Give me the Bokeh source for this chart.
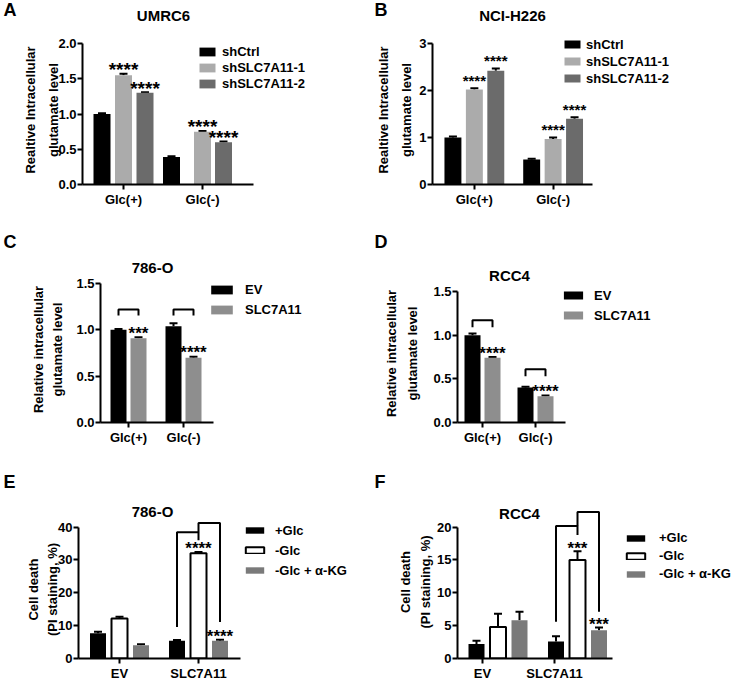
from bokeh.plotting import figure
from bokeh.models import (ColumnDataSource, Whisker, TeeHead, Legend, LegendItem,
                          FixedTicker, Range1d, PrintfTickFormatter, LinearAxis)
from bokeh.layouts import row, column
from bokeh.embed import file_html
from bokeh.resources import INLINE
from bokeh.core.properties import value

# ---------------- data ----------------
glc_cats = ["Glc(+)", "Glc(-)"]
pi_cats = ["EV", "SLC7A11"]

# A  UMRC6
a_names = ["shCtrl", "shSLC7A11-1", "shSLC7A11-2"]
a_shctrl = [1.00, 0.39]
a_shctrl_err = [0.01, 0.01]
a_sh1 = [1.55, 0.75]
a_sh1_err = [0.02, 0.01]
a_sh2 = [1.30, 0.60]
a_sh2_err = [0.01, 0.01]
a_stars_sh1 = ["****", "****"]
a_stars_sh2 = ["****", "****"]

# B  NCI-H226
b_shctrl = [1.00, 0.53]
b_shctrl_err = [0.02, 0.02]
b_sh1 = [2.02, 0.97]
b_sh1_err = [0.03, 0.03]
b_sh2 = [2.42, 1.40]
b_sh2_err = [0.05, 0.03]
b_stars_sh1 = ["****", "****"]
b_stars_sh2 = ["****", "****"]

# C  786-O glutamate
cd_names = ["EV", "SLC7A11"]
c_ev = [1.00, 1.04]
c_ev_err = [0.01, 0.03]
c_slc = [0.91, 0.70]
c_slc_err = [0.01, 0.01]
c_stars = ["***", "****"]
c_br_top = [1.22, 1.22]
c_br_leg = [1.155, 1.155]

# D  RCC4 glutamate
d_ev = [1.00, 0.40]
d_ev_err = [0.02, 0.01]
d_slc = [0.74, 0.30]
d_slc_err = [0.01, 0.01]
d_stars = ["****", "****"]
d_br_top = [1.17, 0.61]
d_br_leg = [1.09, 0.53]

# E  786-O cell death
ef_names = ["+Glc", "-Glc", "-Glc + \u03b1-KG"]
e_glc = [7.7, 5.4]
e_glc_err = [0.4, 0.2]
e_noglc = [12.2, 32.0]
e_noglc_err = [0.5, 0.4]
e_akg = [4.0, 5.4]
e_akg_err = [0.3, 0.3]
e_stars_noglc = ["", "****"]
e_stars_akg = ["", "****"]
e_br1 = [9.6, 38.4, 36.0]    # left leg bottom, top, right drop
e_br2 = [38.4, 41.2, 11.1]   # left start, top, right leg bottom

# F  RCC4 cell death
f_glc = [2.2, 2.6]
f_glc_err = [0.5, 0.8]
f_noglc = [4.8, 15.0]
f_noglc_err = [2.0, 1.3]
f_akg = [5.8, 4.3]
f_akg_err = [1.3, 0.4]
f_stars_noglc = ["", "***"]
f_stars_akg = ["", "***"]
f_br1 = [5.6, 20.15, 18.8]
f_br2 = [20.15, 22.3, 7.1]

# ---------------- styling / geometry (pixels) ----------------
FONT = "Liberation Sans"
BLACK = "#000000"
LIGHT = "#ababab"
DARK = "#6b6b6b"
MID = "#8e8e8e"
AKG = "#7a7a7a"


def style_axis(ax):
    ax.axis_line_width = 2
    ax.axis_line_color = "black"
    ax.major_tick_line_width = 2
    ax.major_tick_line_color = "black"
    ax.major_tick_out = 5
    ax.major_tick_in = 0
    ax.minor_tick_line_color = None
    ax.major_label_text_font = FONT
    ax.major_label_text_font_style = "bold"
    ax.major_label_text_font_size = "13px"
    ax.major_label_text_color = "black"
    ax.axis_label_text_font = FONT
    ax.axis_label_text_font_style = "bold"
    ax.axis_label_text_font_size = "13px"
    ax.axis_label_text_color = "black"


def make_panel(g, cats, series):
    ox, oy = g["origin"]
    W, H = g["size"]
    ax_x, ax_y = g["axis"]
    Lr = round(ax_x - ox)
    Br = round(H - (ax_y - oy))
    fh = H - Br
    fw = W - Lr
    pxu = (ax_y - g["ytop_px"]) / g["yticks"][-1]
    c0, c1 = g["cats_px"]
    cu = (c1 - c0)
    x0 = (ax_x - c0) / cu
    x1 = x0 + fw / cu
    p = figure(width=W, height=H, x_range=Range1d(x0, x1), y_range=Range1d(0, fh / pxu),
               output_backend="svg", toolbar_location=None,
               min_border_left=Lr, min_border_bottom=Br, min_border_top=0, min_border_right=0)
    p.frame_align = False
    p.outline_line_color = None
    p.xgrid.visible = False
    p.ygrid.visible = False
    p.background_fill_color = "white"
    p.border_fill_color = "white"

    style_axis(p.xaxis[0])
    style_axis(p.yaxis[0])
    ytop = g["yticks"][-1]
    p.yaxis.ticker = FixedTicker(ticks=g["yticks"])
    p.yaxis.formatter = PrintfTickFormatter(format=g["fmt"])
    p.yaxis.major_label_standoff = 1
    p.yaxis.bounds = (0, ytop)
    line1, line2 = g["ylabel"]
    p.yaxis.axis_label = line2
    p.yaxis.axis_label_standoff = g["ylab_st"][0]
    outer = LinearAxis(axis_label=line1, ticker=FixedTicker(ticks=[]), bounds=(0, ytop))
    style_axis(outer)
    outer.axis_line_color = None
    outer.major_tick_out = 0
    outer.major_label_standoff = 0
    outer.axis_label_standoff = g["ylab_st"][1]
    p.add_layout(outer, "left")

    idx = list(range(len(cats)))
    shift = g.get("shift_px", [0] * len(cats))
    p.xaxis.ticker = FixedTicker(ticks=idx)
    p.xaxis.major_label_overrides = {i: c for i, c in zip(idx, cats)}
    p.xaxis.major_label_standoff = 2
    p.xaxis.bounds = (x0, (g["xend_px"] - c0) / cu)

    bw = g["bw"] / cu
    offs = g["offs"]
    if not isinstance(offs[0], (list, tuple)):
        offs = [offs] * len(cats)
    items = []
    xpos = []
    for k, s in enumerate(series):
        xs = [i + (shift[i] + offs[i][k]) / cu for i in idx]
        xpos.append(xs)
        upper = [v + e for v, e in zip(s["vals"], s["errs"])]
        src = ColumnDataSource(dict(x=xs, top=s["vals"], upper=upper))
        outline = s.get("line")
        r = p.vbar(x="x", top="top", bottom=0, width=bw, source=src,
                   fill_color=s["fill"], line_color=outline,
                   line_width=2 if outline else 1)
        p.add_layout(Whisker(source=src, base="x", upper="upper", lower="top",
                             line_width=2, line_color="black",
                             upper_head=TeeHead(size=8, line_width=2, line_color="black"),
                             lower_head=None))
        items.append(LegendItem(label=s["name"], renderers=[r]))
        if s.get("stars"):
            tsrc = ColumnDataSource(dict(x=xs, y=upper, t=s["stars"]))
            p.text(x="x", y="y", text="t", source=tsrc, text_align="center",
                   text_baseline="alphabetic", y_offset=g["star_dy"],
                   text_font=value(FONT), text_font_style="bold",
                   text_font_size=g["star_size"], text_color="black")

    lg = g["leg"]
    lh = round(lg["pitch"])
    top_fb = ax_y - (lg["row1"] - lg["pitch"] / 2)
    leg = Legend(items=items,
                 location=(lg["left"] - ax_x, top_fb - len(items) * lh),
                 orientation="vertical", glyph_width=lg["gw"],
                 glyph_height=lg["gh"], label_height=lh, spacing=0, padding=0, margin=0,
                 label_standoff=round(lg["label_x"] - lg["left"] - lg["gw"]),
                 border_line_color=None, background_fill_alpha=0,
                 label_text_font=FONT, label_text_font_style="bold",
                 label_text_font_size="13px", label_text_color="black")
    p.add_layout(leg)

    if g.get("title"):
        t, tx, ty = g["title"]
        p.text(x=[(tx - c0) / cu], y=[(ax_y - ty) / pxu], text=[t],
               text_align="center", text_baseline="middle",
               text_font=value(FONT), text_font_style="bold",
               text_font_size="15px", text_color="black")
    return p, xpos


def make_strip(left, top, w, h, texts):
    s = figure(width=w, height=h, x_range=Range1d(0, w), y_range=Range1d(h, 0),
               x_axis_type=None, y_axis_type=None, output_backend="svg",
               toolbar_location=None, min_border=0)
    s.frame_align = False
    s.outline_line_color = None
    s.xgrid.visible = False
    s.ygrid.visible = False
    for t, x, y, size, align in texts:
        s.text(x=[x - left], y=[y - top], text=[t], text_align=align, text_baseline="middle",
               text_font=value(FONT), text_font_style="bold", text_font_size=size,
               text_color="black")
    return s


GA = dict(origin=(0, 35), size=(372, 195), axis=(82, 184), ytop_px=43,
          yticks=[0, 0.5, 1.0, 1.5, 2.0], fmt="%.1f", cats_px=(123, 202),
          offs=[[-21.5, 0, 21.5], [-31, 0, 21]], bw=17, xend_px=253,
          leg=dict(left=197, gw=20, gh=11, label_x=222, row1=52, pitch=16.5),
          ylabel=("Realtive Intracellular", "glutamate level"), ylab_st=(-6, 6),
          star_size="19px", star_dy=-4)
GB = dict(origin=(372, 35), size=(373, 195), axis=(431, 184), ytop_px=43,
          yticks=[0, 1, 2, 3], fmt="%d", cats_px=(473, 552),
          offs=[-21.5, 0, 21.5], bw=17, xend_px=592,
          leg=dict(left=561, gw=20, gh=10, label_x=585, row1=44, pitch=17),
          ylabel=("Realtive Intracellular", "glutamate level"), ylab_st=(2, 6),
          star_size="15px", star_dy=-8)
GC = dict(origin=(0, 276), size=(372, 184), axis=(100, 422), ytop_px=283,
          yticks=[0, 0.5, 1.0, 1.5], fmt="%.1f", cats_px=(128, 183),
          offs=[-10, 10], bw=16, xend_px=213,
          leg=dict(left=208, gw=27, gh=11, label_x=245, row1=289, pitch=20),
          ylabel=("Relative intracellular", "glutamate level"), ylab_st=(8, 2),
          star_size="17px", star_dy=-4)
GD = dict(origin=(372, 284), size=(373, 176), axis=(457, 422), ytop_px=291,
          yticks=[0, 0.5, 1.0, 1.5], fmt="%.1f", cats_px=(482, 535),
          offs=[-10, 10], bw=16, xend_px=565,
          leg=dict(left=561, gw=24, gh=10, label_x=594, row1=295, pitch=20),
          ylabel=("Relative intracellular", "glutamate level"), ylab_st=(10, 4),
          star_size="17px", star_dy=-4)
GE = dict(origin=(0, 520), size=(372, 164), axis=(78, 658.5), ytop_px=527,
          yticks=[0, 10, 20, 30, 40], fmt="%d", cats_px=(119, 198),
          offs=[-21.5, 0, 21.5], bw=16, xend_px=240,
          leg=dict(left=243, gw=23, gh=8, label_x=275, row1=531, pitch=20.5),
          ylabel=("Cell death", "(PI staining, %)"), ylab_st=(-5, 2),
          star_size="17px", star_dy=-3)
GF = dict(origin=(372, 505), size=(373, 179), axis=(457, 658.5), ytop_px=527,
          yticks=[0, 5, 10, 15, 20], fmt="%d", cats_px=(482, 554), shift_px=[15.5, 23],
          offs=[-21.5, 0, 21.5], bw=16, xend_px=612,
          leg=dict(left=624, gw=23, gh=8, label_x=659, row1=538, pitch=18),
          title=("RCC4", 519, 513),
          ylabel=("Cell death", "(PI staining, %)"), ylab_st=(1, 3),
          star_size="17px", star_dy=-3)

pA, _ = make_panel(GA, glc_cats, [
    dict(name=a_names[0], vals=a_shctrl, errs=a_shctrl_err, fill=BLACK),
    dict(name=a_names[1], vals=a_sh1, errs=a_sh1_err, fill=LIGHT, stars=a_stars_sh1),
    dict(name=a_names[2], vals=a_sh2, errs=a_sh2_err, fill=DARK, stars=a_stars_sh2)])
pB, _ = make_panel(GB, glc_cats, [
    dict(name=a_names[0], vals=b_shctrl, errs=b_shctrl_err, fill=BLACK),
    dict(name=a_names[1], vals=b_sh1, errs=b_sh1_err, fill=LIGHT, stars=b_stars_sh1),
    dict(name=a_names[2], vals=b_sh2, errs=b_sh2_err, fill=DARK, stars=b_stars_sh2)])
pC, xc = make_panel(GC, glc_cats, [
    dict(name=cd_names[0], vals=c_ev, errs=c_ev_err, fill=BLACK),
    dict(name=cd_names[1], vals=c_slc, errs=c_slc_err, fill=MID, stars=c_stars)])
pD, xd = make_panel(GD, glc_cats, [
    dict(name=cd_names[0], vals=d_ev, errs=d_ev_err, fill=BLACK),
    dict(name=cd_names[1], vals=d_slc, errs=d_slc_err, fill=MID, stars=d_stars)])
pE, xe = make_panel(GE, pi_cats, [
    dict(name=ef_names[0], vals=e_glc, errs=e_glc_err, fill=BLACK),
    dict(name=ef_names[1], vals=e_noglc, errs=e_noglc_err, fill="white", line="black", stars=e_stars_noglc),
    dict(name=ef_names[2], vals=e_akg, errs=e_akg_err, fill=AKG, stars=e_stars_akg)])
pF, xf = make_panel(GF, pi_cats, [
    dict(name=ef_names[0], vals=f_glc, errs=f_glc_err, fill=BLACK),
    dict(name=ef_names[1], vals=f_noglc, errs=f_noglc_err, fill="white", line="black", stars=f_stars_noglc),
    dict(name=ef_names[2], vals=f_akg, errs=f_akg_err, fill=AKG, stars=f_stars_akg)])

# significance brackets
for p, xs, tops, legs in ((pC, xc, c_br_top, c_br_leg), (pD, xd, d_br_top, d_br_leg)):
    bx, by = [], []
    for i in range(len(tops)):
        bx.append([xs[0][i], xs[0][i], xs[1][i], xs[1][i]])
        by.append([legs[i], tops[i], tops[i], legs[i]])
    p.multi_line(xs=bx, ys=by, line_color="black", line_width=2)

for p, xs, b1, b2 in ((pE, xe, e_br1, e_br2), (pF, xf, f_br1, f_br2)):
    i = 1
    bx = [[xs[0][i], xs[0][i], xs[1][i], xs[1][i]],
          [xs[1][i], xs[1][i], xs[2][i], xs[2][i]]]
    by = [[b1[0], b1[1], b1[1], b1[2]],
          [b2[0], b2[1], b2[1], b2[2]]]
    p.multi_line(xs=bx, ys=by, line_color="black", line_width=2)

# panel letters and titles above the plot frames
sA = make_strip(0, 0, 372, 35, [("A", 3, 9.5, "18px", "left"), ("UMRC6", 163, 15, "15px", "center")])
sB = make_strip(372, 0, 373, 35, [("B", 374, 9.5, "18px", "left"), ("NCI-H226", 512, 15, "15px", "center")])
sC = make_strip(0, 230, 372, 46, [("C", 3, 241, "18px", "left"), ("786-O", 152, 266.5, "15px", "center")])
sD = make_strip(372, 230, 373, 54, [("D", 374, 241, "18px", "left"), ("RCC4", 509, 274.5, "15px", "center")])
sE = make_strip(0, 460, 372, 60, [("E", 3, 481.5, "18px", "left"), ("786-O", 152, 510.5, "15px", "center")])
sF = make_strip(372, 460, 373, 45, [("F", 374, 481.5, "18px", "left")])

layout = row(column(sA, pA, sC, pC, sE, pE), column(sB, pB, sD, pD, sF, pF))
open("out.html", "w").write(file_html(layout, INLINE))
